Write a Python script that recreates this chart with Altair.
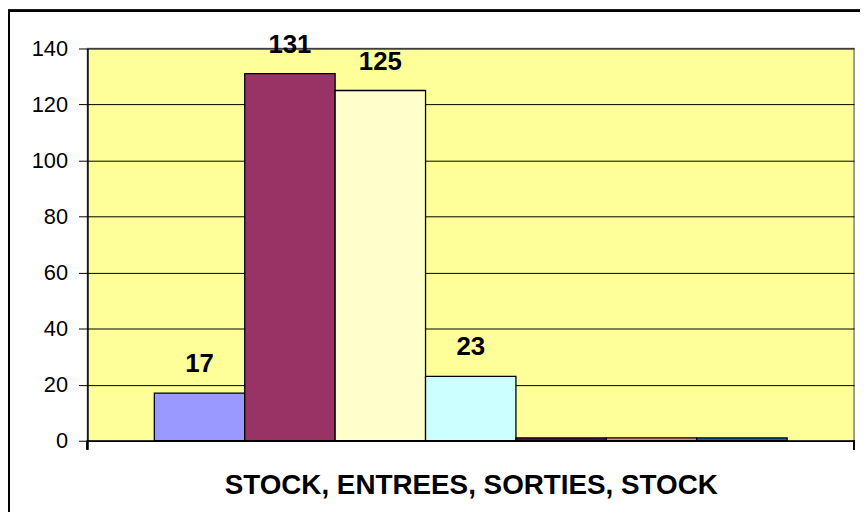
import altair as alt
import pandas as pd

# ---- data ----
series = ["Série 1", "Série 2", "Série 3", "Série 4", "Série 5", "Série 6", "Série 7"]
values = [17, 131, 125, 23, 1, 1, 1]
labels = ["17", "131", "125", "23", "", "", ""]
colors = ["#9999FF", "#993366", "#FFFFCC", "#CCFFFF", "#660066", "#FF8080", "#0066CC"]
y_ticks = [0, 20, 40, 60, 80, 100, 120, 140]
x_title = "STOCK, ENTREES, SORTIES, STOCK"

df = pd.DataFrame({"serie": series, "valeur": values, "label": labels})

W, H = 772, 395
FONT = "Liberation Sans"

x_enc = alt.X(
    "serie:N",
    sort=series,
    scale=alt.Scale(paddingInner=0, paddingOuter=0.74),
    axis=alt.Axis(
        title=x_title, labels=False, ticks=False, domain=True,
        domainColor="black", domainWidth=1.5,
        titleFont=FONT, titleFontSize=28, titleFontWeight="bold",
        titleColor="black", titleBaseline="alphabetic", titleY=53,
    ),
)
y_enc = alt.Y(
    "valeur:Q",
    scale=alt.Scale(domain=[0, 140], nice=False),
    axis=alt.Axis(
        values=y_ticks, title=None, grid=True, gridColor="black", gridWidth=1,
        domainColor="black", domainWidth=1.5, tickColor="black", tickSize=9,
        labelFont=FONT, labelFontSize=22, labelColor="black", labelPadding=11,
    ),
)

base = alt.Chart(df)

bars = base.mark_bar(stroke="black", strokeWidth=1.3).encode(
    x=x_enc,
    y=y_enc,
    color=alt.Color("serie:N", scale=alt.Scale(domain=series, range=colors), legend=None),
)

text = base.mark_text(
    dy=-21, baseline="alphabetic", fontSize=26, fontWeight="bold", font=FONT, color="black"
).encode(x=alt.X("serie:N", sort=series), y="valeur:Q", text="label:N")

tick_l = alt.Chart(df).mark_rule(color="black", strokeWidth=1.5).encode(
    x=alt.value(0), y=alt.value(H), y2=alt.value(H + 9)
)
tick_r = alt.Chart(df).mark_rule(color="black", strokeWidth=1.5).encode(
    x=alt.value(W), y=alt.value(H), y2=alt.value(H + 9)
)

frame = alt.Chart(df).mark_rect(fill=None, stroke="black", strokeWidth=2).encode(
    x=alt.value(-79), x2=alt.value(W + 40), y=alt.value(-38), y2=alt.value(H + 120)
)

chart = alt.layer(frame, bars, text, tick_l, tick_r).properties(
    width=W, height=H,
    padding={"left": 80, "top": 39, "right": 6, "bottom": 70},
    autosize="none",
    background="white",
).configure_view(fill="#FFFF99", stroke="#808080", strokeWidth=1.5)

chart.save("out.html", embed_options={"renderer": "svg", "actions": False})
